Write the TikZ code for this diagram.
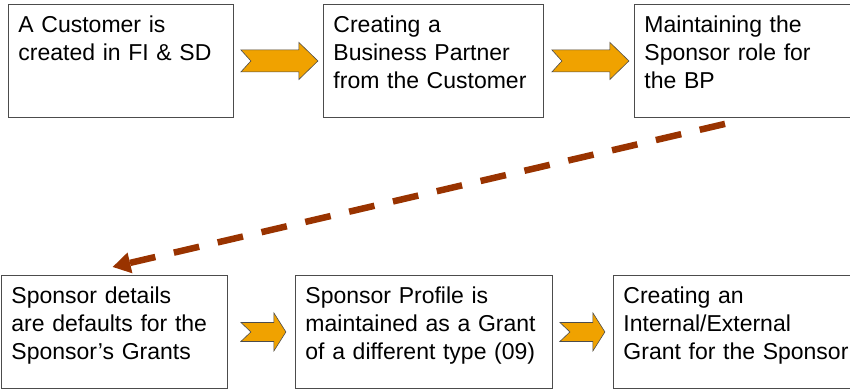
\documentclass[tikz,border=0pt]{standalone}
\usepackage{fontspec}
\setmainfont{Liberation Sans}
\usetikzlibrary{arrows.meta}
\definecolor{flowfill}{RGB}{240,162,0}
\definecolor{linkbrown}{RGB}{153,51,0}
\tikzset{
  stage/.style={draw=black!70, line width=0.9pt, fill=white, anchor=north west,
    minimum height=113pt, inner xsep=10pt, inner ysep=0pt, align=left,
    text height=28pt, text depth=85pt,
    font=\fontsize{23}{28}\selectfont},
  flow/.style={draw=black!70, line width=0.6pt, fill=flowfill},
  link/.style={draw=linkbrown, line width=6.5pt, dash pattern=on 26pt off 19pt,
    -{Triangle[length=18pt,width=20pt]}}
}
\begin{document}
    \begin{tikzpicture}[x=1pt,y=-1pt]
      \useasboundingbox (0,0) rectangle (850,390);
      % top row
      \node[stage, text width=205pt] (cust) at (8,4)
        {A Customer is\\created in FI \& SD};
      \node[stage, text width=200pt] (bp) at (323,4)
        {Creating a\\Business Partner\\from the Customer};
      \node[stage, text width=220pt] (role) at (634,4)
        {Maintaining the\\Sponsor role for\\the BP};
      % bottom row
      \node[stage, text width=206pt] (dflt) at (1,275)
        {Sponsor details\\are defaults for the\\Sponsor’s Grants};
      \node[stage, text width=237pt] (prof) at (295,275)
        {Sponsor Profile is\\maintained as a Grant\\of a different type (09)};
      \node[stage, text width=240pt] (grant) at (613,275)
        {Creating an\\Internal/External\\Grant for the Sponsor};
      \begin{scope}
        \draw[flow] ([xshift=7pt]cust.east) ++(0,-11) -- ++(58,0) -- ++(0,-7.5)
          -- ++(19,18.5) -- ++(-19,18.5) -- ++(0,-7.5) -- ++(-58,0) -- ++(10,-11) -- cycle;
        \draw[flow] ([xshift=8pt]bp.east) ++(0,-11) -- ++(58,0) -- ++(0,-7.5)
          -- ++(19,18.5) -- ++(-19,18.5) -- ++(0,-7.5) -- ++(-58,0) -- ++(10,-11) -- cycle;
        \draw[flow] ([xshift=13pt]dflt.east) ++(0,-9.5) -- ++(33,0) -- ++(0,-9.5)
          -- ++(12,19) -- ++(-12,19) -- ++(0,-9.5) -- ++(-33,0) -- ++(10,-9.5) -- cycle;
        \draw[flow] ([xshift=7pt]prof.east) ++(0,-9.5) -- ++(33,0) -- ++(0,-9.5)
          -- ++(12,19) -- ++(-12,19) -- ++(0,-9.5) -- ++(-33,0) -- ++(10,-9.5) -- cycle;
      \end{scope}
      \draw[link] ([xshift=91pt,yshift=-6pt]role.south west) -- ([xshift=-2pt,yshift=8pt]dflt.north);
    \end{tikzpicture}
\end{document}
